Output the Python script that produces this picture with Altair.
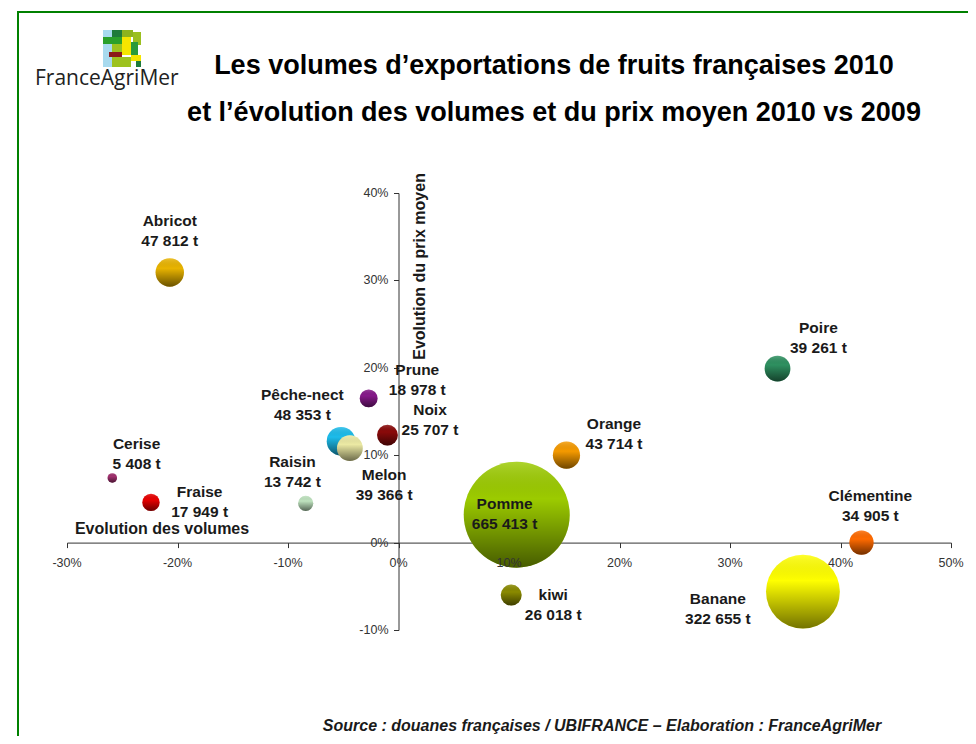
import altair as alt
import pandas as pd

# ---------------- data ----------------
names = ["Abricot", "Cerise", "Fraise", "Raisin", "Pêche-nect", "Melon", "Prune",
         "Noix", "Orange", "Pomme", "kiwi", "Poire", "Clémentine", "Banane"]
volumes = [47812, 5408, 17949, 13742, 48353, 39366, 18978,
           25707, 43714, 665413, 26018, 39261, 34905, 322655]
vol_evo = [-20.7, -25.9, -22.4, -8.4, -5.2, -4.4, -2.7,
           -1.0, 15.2, 10.7, 10.2, 34.3, 41.9, 36.6]
price_evo = [30.9, 7.4, 4.6, 4.5, 11.6, 10.8, 16.5,
             12.3, 10.0, 3.2, -6.0, 19.9, 0.0, -5.6]
label_x = [-20.7, -23.7, -18.0, -9.6, -8.7, -1.3, 1.7,
           2.85, 19.5, 9.6, 14.0, 38.0, 42.7, 28.9]
label_y = [35.6, 10.1, 4.6, 8.1, 15.7, 6.6, 18.6,
           14.0, 12.4, 3.3, -7.1, 23.4, 4.2, -7.6]
colors = ["#E9B400", "#A0306E", "#E80000", "#BFE3BF", "#1CBCEB", "#ECEAA4", "#86198A",
          "#8A0A0A", "#F59A00", "#9CCB00", "#8A8A00", "#2E9060", "#FF6A00", "#FFFF00"]

x_ticks = [-30, -20, -10, 0, 10, 20, 30, 40, 50]
y_ticks = [-10, 0, 10, 20, 30, 40]

title_lines = ["Les volumes d’exportations de fruits françaises 2010",
               "et l’évolution des volumes et du prix moyen 2010 vs 2009"]
source_text = "Source : douanes françaises / UBIFRANCE – Elaboration : FranceAgriMer"

# ---------------- layout ----------------
W, H = 884, 437
X_MIN, X_MAX = -30, 50
Y_MIN, Y_MAX = -10, 40
PAD_L, PAD_T = 59, 185
FONT = "Liberation Sans"
BIGGEST_DIAM = 106

df = pd.DataFrame({
    "name": names,
    "volume": volumes,
    "vx": vol_evo,
    "py": price_evo,
    "lx": label_x,
    "ly": label_y,
})
df["label"] = [f"{n}\n{v:,} t".replace(",", " ") for n, v in zip(names, volumes)]

xs = alt.Scale(domain=[X_MIN, X_MAX], nice=False, zero=False)
ys = alt.Scale(domain=[Y_MIN, Y_MAX], nice=False, zero=False)
ss = alt.Scale(domain=[0, max(volumes)], range=[0, BIGGEST_DIAM ** 2], zero=True)
cs = alt.Scale(domain=names, range=colors)

y_zero_px = H * (Y_MAX - 0) / (Y_MAX - Y_MIN)
x_zero_px = W * (0 - X_MIN) / (X_MAX - X_MIN)

x_axis = alt.Axis(values=x_ticks, labels=False, title=None, grid=False,
                  offset=-(H - y_zero_px), domainColor="#333333", tickColor="#333333",
                  tickSize=5, domainWidth=1)
y_axis = alt.Axis(values=y_ticks, labels=False, title=None, grid=False,
                  offset=-x_zero_px, domainColor="#333333", tickColor="#333333",
                  tickSize=5, domainWidth=1)

one = pd.DataFrame({"a": [0]})

# frame
frame = alt.Chart(one).mark_rect(fillOpacity=0, stroke="#008000", strokeWidth=2).encode(
    x=alt.value(18 - 8 - PAD_L), x2=alt.value(1200),
    y=alt.value(12 - 8 - PAD_T), y2=alt.value(1000))

# axes carrier
axes = alt.Chart(df).mark_point(opacity=0).encode(
    x=alt.X("vx:Q", scale=xs, axis=x_axis),
    y=alt.Y("py:Q", scale=ys, axis=y_axis))

layers = [frame, axes]

shade = alt.LinearGradient(
    gradient="linear", x1=0, x2=0, y1=0, y2=1,
    stops=[alt.GradientStop(color="rgba(255,255,255,0.18)", offset=0),
           alt.GradientStop(color="rgba(0,0,0,0)", offset=0.35),
           alt.GradientStop(color="rgba(0,0,0,0.55)", offset=1)])

for n in names:
    base = alt.Chart(df).transform_filter(alt.datum.name == n).mark_circle(opacity=1).encode(
        x=alt.X("vx:Q", scale=xs, axis=x_axis),
        y=alt.Y("py:Q", scale=ys, axis=y_axis),
        size=alt.Size("volume:Q", scale=ss, legend=None),
        color=alt.Color("name:N", scale=cs, legend=None))
    over = alt.Chart(df).transform_filter(alt.datum.name == n).mark_circle(
        opacity=1, color=shade).encode(
        x=alt.X("vx:Q", scale=xs, axis=x_axis),
        y=alt.Y("py:Q", scale=ys, axis=y_axis),
        size=alt.Size("volume:Q", scale=ss, legend=None))
    layers += [base, over]

labels = alt.Chart(df).mark_text(font=FONT, fontSize=15.5, fontWeight="bold", color="#1a1a1a",
                                 lineBreak="\n", lineHeight=20, align="center",
                                 baseline="middle", dy=-10).encode(
    x=alt.X("lx:Q", scale=xs), y=alt.Y("ly:Q", scale=ys), text="label:N")

xt = pd.DataFrame({"v": x_ticks, "t": [f"{v}%" for v in x_ticks], "z": [0] * len(x_ticks)})
yt = pd.DataFrame({"v": y_ticks, "t": [f"{v}%" for v in y_ticks], "z": [0] * len(y_ticks)})
xlab = alt.Chart(xt).mark_text(font=FONT, fontSize=12.5, color="#333333", dy=20,
                               align="center", baseline="middle").encode(
    x=alt.X("v:Q", scale=xs), y=alt.Y("z:Q", scale=ys), text="t:N")
ylab = alt.Chart(yt).mark_text(font=FONT, fontSize=12.5, color="#333333", dx=-10,
                               align="right", baseline="middle").encode(
    x=alt.X("z:Q", scale=xs), y=alt.Y("v:Q", scale=ys), text="t:N")

axt = pd.DataFrame({"x": [-21.4, 1.95], "y": [1.5, 31.6],
                    "t": ["Evolution des volumes", "Evolution du prix moyen"]})
xtitle = alt.Chart(axt.iloc[[0]]).mark_text(font=FONT, fontSize=16, fontWeight="bold",
                                           color="#1a1a1a", align="center",
                                           baseline="middle").encode(
    x=alt.X("x:Q", scale=xs), y=alt.Y("y:Q", scale=ys), text="t:N")
ytitle = alt.Chart(axt.iloc[[1]]).mark_text(font=FONT, fontSize=16, fontWeight="bold",
                                           color="#1a1a1a", align="center",
                                           baseline="middle", angle=270).encode(
    x=alt.X("x:Q", scale=xs), y=alt.Y("y:Q", scale=ys), text="t:N")

layers += [labels, xlab, ylab, xtitle, ytitle]

# title, source, logo (page pixel positions converted to plot coords)
def px(x):
    return x - 8 - PAD_L

def py_(y):
    return y - 8 - PAD_T

t1 = alt.Chart(one).mark_text(font=FONT, fontSize=27, fontWeight="bold", color="#000000",
                              align="center", baseline="middle").encode(
    x=alt.value(px(554)), y=alt.value(py_(66)), text=alt.value(title_lines[0]))
t2 = alt.Chart(one).mark_text(font=FONT, fontSize=27, fontWeight="bold", color="#000000",
                              align="center", baseline="middle").encode(
    x=alt.value(px(554)), y=alt.value(py_(113)), text=alt.value(title_lines[1]))
src = alt.Chart(one).mark_text(font=FONT, fontSize=16, fontWeight="bold", fontStyle="italic",
                               color="#1a1a1a", align="center", baseline="middle").encode(
    x=alt.value(px(602)), y=alt.value(py_(726)), text=alt.value(source_text))
logo_txt = alt.Chart(one).mark_text(font="Open Sans", fontSize=21, color="#222222",
                                    align="left", baseline="middle").encode(
    x=alt.value(px(35)), y=alt.value(py_(79)), text=alt.value("FranceAgriMer"))
layers += [t1, t2, src, logo_txt]

logo_rects = [
    (103, 30, 112, 67, "#A8DAEE"),
    (112, 30, 122, 37, "#1E7B3A"),
    (122, 30, 133, 37, "#8DB31E"),
    (133, 32, 141, 45, "#9BBF1F"),
    (103, 37, 122, 44, "#2AA02A"),
    (122, 37, 131, 55, "#F5E500"),
    (131, 42, 138, 55, "#2A9A3A"),
    (112, 44, 122, 52, "#9DC21E"),
    (109, 52, 122, 57, "#8B1A1A"),
    (112, 57, 131, 67, "#9DC21E"),
    (131, 55, 141, 61, "#F5E500"),
    (136, 61, 141, 67, "#1E7B3A"),
]
for (a, b, c, d, col) in logo_rects:
    layers.append(alt.Chart(one).mark_rect(color=col).encode(
        x=alt.value(px(a)), x2=alt.value(px(c)), y=alt.value(py_(b)), y2=alt.value(py_(d))))

chart = alt.layer(*layers).properties(
    width=W, height=H,
    autosize=alt.AutoSizeParams(type="none"),
    padding={"left": PAD_L, "top": PAD_T, "right": 960 - PAD_L - W, "bottom": 728 - PAD_T - H},
    background="white",
).configure_view(stroke=None)

chart.save("out.html", embed_options={"renderer": "svg", "actions": False})
